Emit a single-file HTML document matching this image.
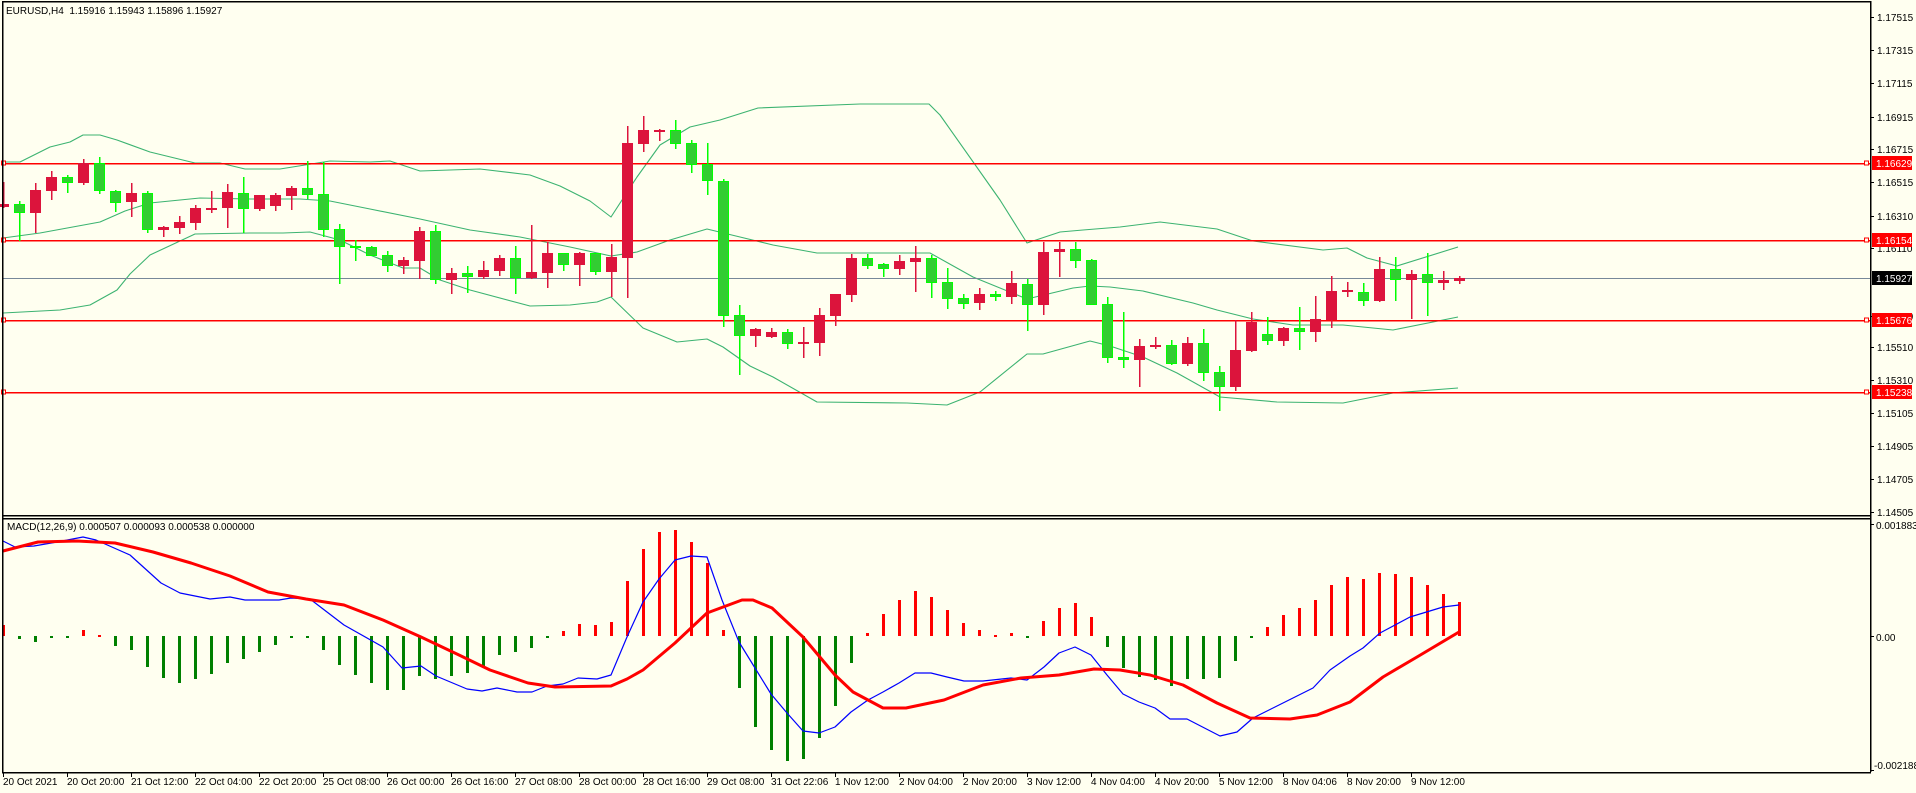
<!DOCTYPE html>
<html><head><meta charset="utf-8">
<style>
html,body{margin:0;padding:0;background:#fffff0;}
svg{display:block;}
text{font-family:"Liberation Sans",sans-serif;font-size:10px;fill:#000;}
</style></head>
<body>
<svg id="s" width="1916" height="793" xmlns="http://www.w3.org/2000/svg" shape-rendering="crispEdges">
<rect width="1916" height="793" fill="#fffff0"/>
</svg>
<script>
const s=document.getElementById('s');
let h='';
function L(x1,y1,x2,y2,c,w){h+=`<line x1="${x1}" y1="${y1}" x2="${x2}" y2="${y2}" stroke="${c}" stroke-width="${w||1}"/>`;}
function R(x,y,w,hh,f,st){h+=`<rect x="${x}" y="${y}" width="${w}" height="${hh}" fill="${f}"${st?` stroke="${st}"`:''}/>`;}
function T(x,y,t,extra){h+=`<text x="${x}" y="${y}" ${extra||''}>${t}</text>`;}
function P(pts,c,w){h+=`<polyline fill="none" stroke="${c}" stroke-width="${w}" stroke-linejoin="round" shape-rendering="auto" points="${pts.map(p=>p.join(',')).join(' ')}"/>`;}
const C=[[204,207,182,208,'r'],[204,213,201,241,'g'],[190,213,183,233,'r'],[177,191,171,200,'r'],[177,183,175,193,'g'],[163,183,159,185,'r'],[163,191,157,194,'g'],[191,203,190,212,'g'],[193,202,183,217,'r'],[193,230,191,233,'g'],
[227,230,226,237,'r'],[222,228,216,234,'r'],[208,223,205,230,'r'],[208,209,191,213,'r'],[192,208,184,228,'r'],[193,209,177,233,'g'],[195,209,195,211,'r'],[195,206,193,211,'r'],[188,196,186,210,'r'],[188,195,161,199,'g'],
[194,230,162,237,'g'],[229,247,224,284,'g'],[246,248,240,261,'g'],[247,256,246,256,'g'],[255,266,251,272,'g'],[260,266,257,274,'r'],[231,261,227,279,'r'],[231,280,225,284,'g'],[273,280,268,294,'r'],[273,277,266,293,'g'],
[270,277,261,279,'r'],[258,271,255,276,'r'],[258,278,246,294,'g'],[272,278,225,279,'r'],[253,273,242,288,'r'],[253,265,253,271,'g'],[253,265,252,286,'r'],[253,272,253,275,'g'],[257,272,244,297,'r'],[143,258,126,298,'r'],
[130,144,116,152,'r'],[130,131,129,141,'r'],[130,144,120,149,'g'],[143,165,140,173,'g'],[164,181,143,195,'g'],[181,316,179,327,'g'],[315,336,305,375,'g'],[329,336,328,347,'r'],[332,337,328,338,'r'],[332,344,329,349,'g'],
[342,344,327,358,'r'],[315,343,308,356,'r'],[294,316,294,326,'r'],[258,295,254,302,'r'],[258,266,254,269,'g'],[264,269,263,277,'g'],[261,269,255,275,'r'],[258,262,246,292,'r'],[258,283,255,298,'g'],[282,299,268,309,'g'],
[298,304,294,309,'g'],[294,303,288,310,'r'],[294,297,291,301,'g'],[283,297,271,304,'r'],[284,305,279,331,'g'],[252,305,242,315,'r'],[249,252,242,277,'r'],[249,261,242,268,'g'],[260,305,259,305,'g'],[304,358,297,363,'g'],
[357,360,312,368,'g'],[346,360,339,387,'r'],[345,347,337,349,'r'],[345,364,340,365,'g'],[343,364,337,366,'r'],[343,373,329,381,'g'],[372,387,366,411,'g'],[350,387,320,391,'r'],[322,351,312,352,'r'],[334,341,317,345,'g'],
[328,341,327,346,'r'],[328,332,307,350,'g'],[319,332,296,342,'r'],[291,320,276,328,'r'],[290,292,282,297,'r'],[292,301,283,306,'g'],[269,301,257,302,'r'],[269,280,257,301,'g'],[274,280,270,319,'r'],[274,283,253,316,'g'],
[280,283,271,290,'r'],[278,281,276,284,'r']];
const up=[[3,162],[20,162],[50,147],[70,142],[83,135],[100,135],[117,140],[150,152],[195,163],[220,163],[245,169],[280,169],[330,161],[370,162],[390,161],[420,171],[450,170],[480,169],[530,175],[560,186],[590,201],[611,217],[637,177],[660,145],[690,127],[720,120],[758,108],[860,104],[929,104],[940,115],[1000,200],[1027,243],[1060,232],[1083,230],[1120,227],[1160,222],[1217,229],[1253,241],[1323,250],[1347,248],[1367,258],[1397,266],[1458,247]];
const mid=[[3,238],[40,233],[100,222],[125,211],[150,203],[200,198],[250,199],[300,199],[330,201],[370,209],[420,219],[470,230],[520,237],[570,247],[611,256],[637,252],[670,240],[707,229],[740,237],[773,245],[817,253],[930,253],[973,277],[1027,299],[1073,288],[1090,286],[1110,287],[1143,291],[1193,303],[1217,310],[1253,319],[1293,325],[1343,325],[1393,330],[1458,317]];
const lo=[[3,313],[60,310],[90,305],[117,290],[130,274],[150,255],[195,234],[250,233],[283,233],[310,232],[340,240],[370,255],[403,268],[420,268],[440,280],[470,290],[530,306],[570,305],[597,302],[611,297],[643,328],[677,342],[707,339],[723,347],[750,366],[773,377],[817,402],[907,403],[947,405],[980,392],[1027,354],[1043,354],[1090,341],[1110,346],[1143,357],[1177,373],[1220,397],[1277,402],[1343,403],[1393,393],[1458,388]];
P(up,'#3cb371',1.1);P(mid,'#3cb371',1.1);P(lo,'#3cb371',1.1);
[163,240,320,392].forEach(y=>{L(2,y+.5,1870,y+.5,'#ff0000',1.5);R(1.5,y-2,4,4,'#fffff0','#ff0000');R(1864.5,y-2,4,4,'#fffff0','#ff0000');});
L(2,278.5,1870,278.5,'#778899',1.2);
C.forEach((c,i)=>{const x=3+16*i;const col=c[4]=='r'?'#dc143c':'#00ff00';
 L(x+.5,c[2],x+.5,c[3],col,1.5);
 if(c[4]=='r'){R(x-5,c[0],11,Math.max(2,c[1]-c[0]),'#dc143c');}
 else{R(x-4.5,c[0]+.5,10,Math.max(1,c[1]-c[0]-1),'#32cd32','#00ff00');}
});
const Hh=[625,639,642,638,637,630,635,646,650,667,678,683,679,674,663,659,652,645,638,638,650,665,675,683,690,690,676,679,676,673,666,655,652,648,638,631,624,625,622,581,549,532,530,542,563,630,688,727,750,761,759,738,706,663,633,614,600,591,597,610,623,630,635,633,638,621,608,603,617,647,668,677,680,686,679,679,678,661,638,627,615,608,600,585,577,579,573,574,577,585,594,602];
const Z=636;
Hh.forEach((v,i)=>{const x=3+16*i;const col=v<Z?'#ff0000':'#008000';const a=Math.min(v,Z),b=Math.max(v,Z);R(x-1,a,3,Math.max(2,b-a),col);});
const blue=[[3,541],[15,547],[34,546],[57,542],[83,537],[96,540],[130,555],[161,583],[180,593],[210,599],[230,597],[245,600],[279,600],[291,598],[310,599],[344,625],[383,647],[402,668],[421,666],[436,676],[467,689],[482,691],[497,688],[517,692],[532,692],[547,686],[563,684],[578,678],[597,679],[611,675],[627,637],[643,602],[659,579],[675,560],[691,556],[707,557],[722,600],[739,642],[755,668],[771,694],[787,713],[803,731],[819,733],[835,727],[851,712],[868,700],[883,692],[899,683],[915,673],[931,673],[947,677],[964,681],[983,681],[1011,678],[1027,680],[1044,667],[1059,653],[1075,647],[1091,655],[1107,675],[1123,694],[1139,702],[1155,708],[1170,719],[1187,719],[1220,736],[1237,732],[1253,718],[1283,703],[1313,688],[1330,670],[1350,656],[1363,648],[1380,633],[1410,617],[1443,607],[1459,605]];
const sig=[[3,551],[38,542],[77,541],[115,543],[153,552],[191,563],[230,576],[268,592],[306,599],[344,605],[383,620],[421,637],[459,655],[490,670],[528,683],[555,687],[611,686],[627,679],[643,670],[675,643],[707,613],[742,600],[753,600],[772,608],[803,637],[835,675],[853,692],[883,708],[906,708],[944,700],[983,685],[1021,678],[1059,675],[1094,669],[1120,670],[1150,675],[1183,685],[1217,703],[1250,718],[1290,719],[1317,715],[1350,702],[1383,677],[1417,657],[1459,632]];
P(blue,'#0000ff',1.2);P(sig,'#ff0000',3);
L(2,1.5,1870,1.5,'#000',1.5);L(2.5,1,2.5,772,'#000',1.5);L(1870.5,1,1870.5,772,'#000',1.5);
L(2,515.5,1870,515.5,'#000',1.5);L(2,518.5,1870,518.5,'#000',1.5);L(2,772.5,1871,772.5,'#000',1.5);
const pt=[[17,'1.17515'],[50,'1.17315'],[83,'1.17115'],[117,'1.16915'],[149,'1.16715'],[182,'1.16515'],[216,'1.16310'],[248,'1.16110'],[316,'1.15710'],[347,'1.15510'],[380,'1.15310'],[413,'1.15105'],[446,'1.14905'],[479,'1.14705'],[512,'1.14505']];
pt.forEach(p=>{L(1870,p[0]+.5,1874,p[0]+.5,'#000');T(1877,p[0]+4,p[1]);});
[[163,'1.16629','#ff0000'],[240,'1.16154','#ff0000'],[278,'1.15927','#000'],[320,'1.15676','#ff0000'],[392,'1.15238','#ff0000']].forEach(p=>{R(1872,p[0]-7,40,14,p[2]);h+=`<text x="1876" y="${p[0]+4}" style="fill:#fff">${p[1]}</text>`;});
L(1870,636.5,1874,636.5,'#000');L(1870,770.5,1874,770.5,'#000');L(1870,524.5,1874,524.5,'#000');
T(1876,529,'0.001883');T(1876,641,'0.00');T(1874,769,'-0.002188');
const tl=['20 Oct 2021','20 Oct 20:00','21 Oct 12:00','22 Oct 04:00','22 Oct 20:00','25 Oct 08:00','26 Oct 00:00','26 Oct 16:00','27 Oct 08:00','28 Oct 00:00','28 Oct 16:00','29 Oct 08:00','31 Oct 22:06','1 Nov 12:00','2 Nov 04:00','2 Nov 20:00','3 Nov 12:00','4 Nov 04:00','4 Nov 20:00','5 Nov 12:00','8 Nov 04:06','8 Nov 20:00','9 Nov 12:00'];
tl.forEach((t,i)=>{const x=3+64*i;L(x+.5,772,x+.5,777,'#000');T(x,785,t);});
T(6,14,'EURUSD,H4&#160;&#160;1.15916 1.15943 1.15896 1.15927');
T(7,530,'MACD(12,26,9) 0.000507 0.000093 0.000538 0.000000');
s.insertAdjacentHTML('beforeend',h);
</script>
</body></html>
